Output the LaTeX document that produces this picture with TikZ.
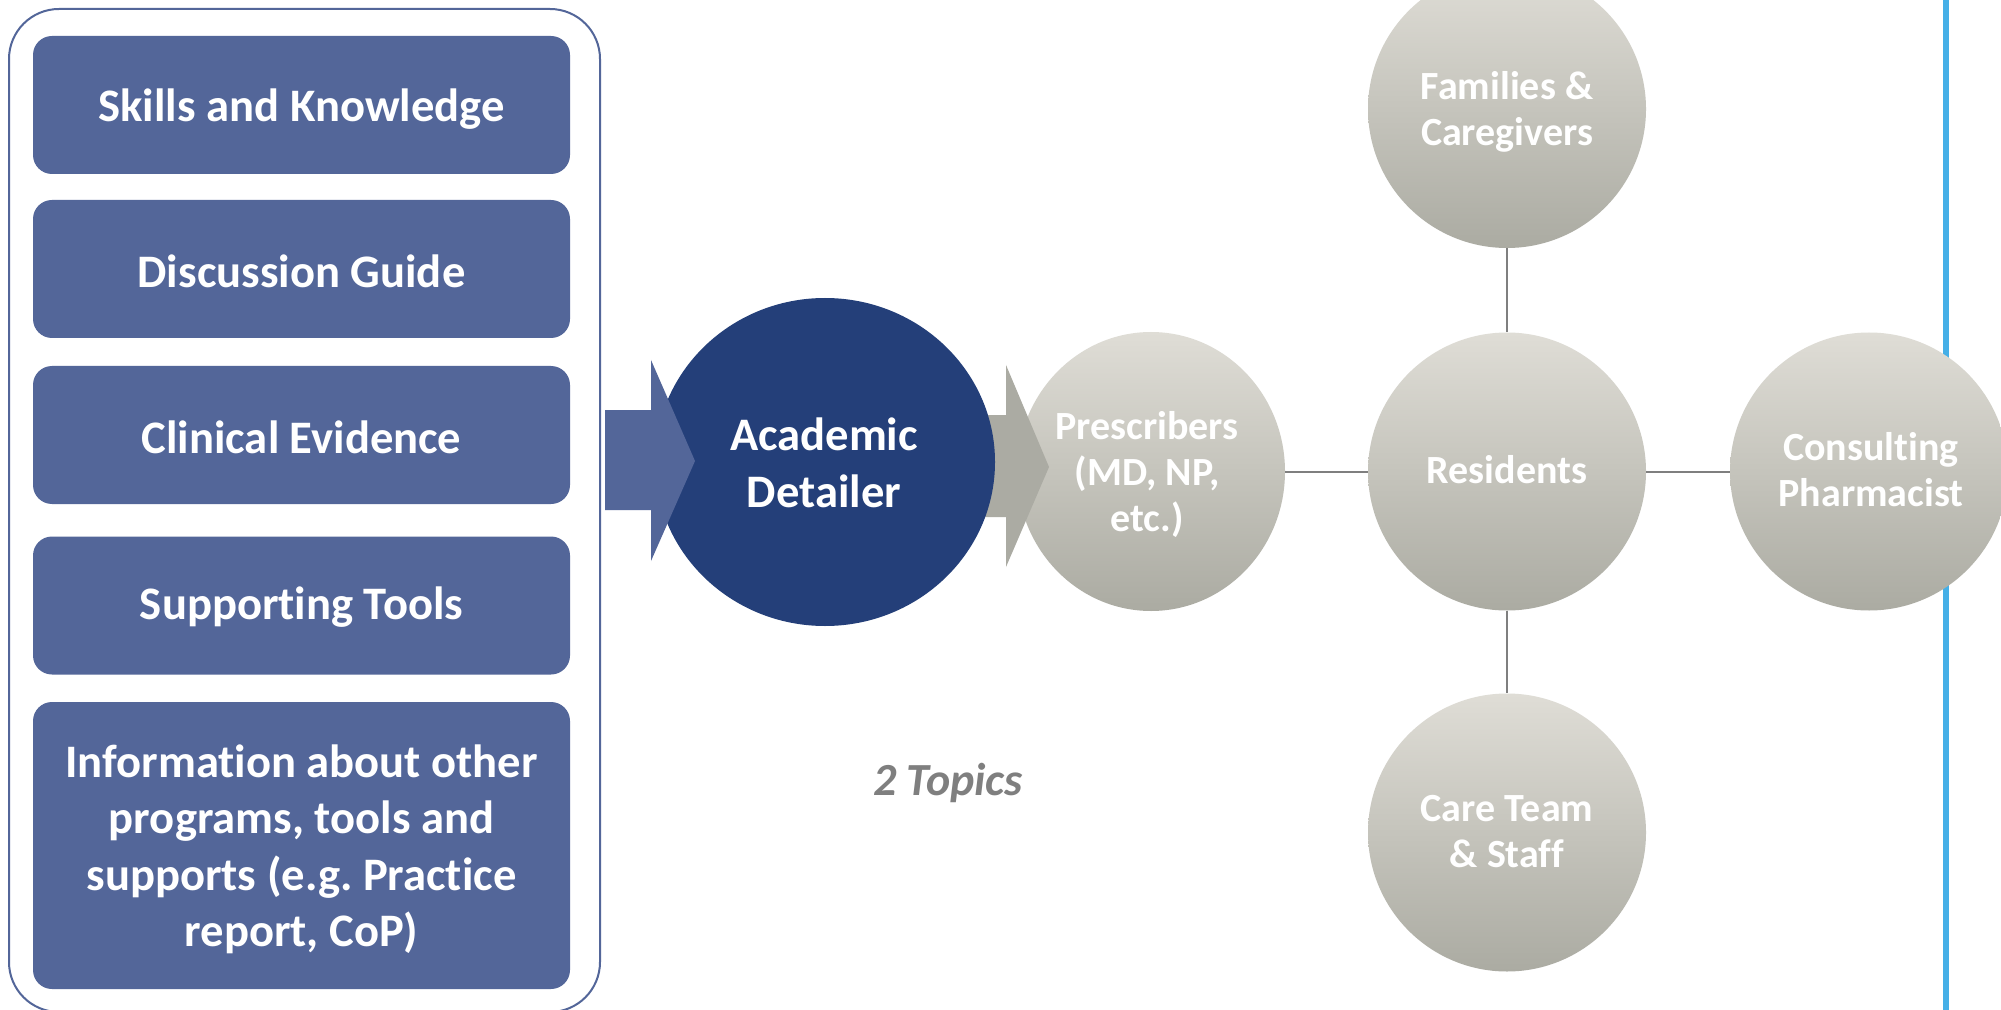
\documentclass[tikz,border=0pt]{standalone}
\usepackage{fontspec}
\setmainfont{Carlito}[Ligatures=NoCommon]
\frenchspacing
\usetikzlibrary{shapes.geometric}
\definecolor{boxblue}{HTML}{536699}
\definecolor{darkblue}{HTML}{243F79}
\definecolor{gtop}{HTML}{DFDDD6}
\definecolor{gbot}{HTML}{ABABA2}
\definecolor{arrgray}{HTML}{ABABA3}
\definecolor{linegray}{HTML}{7F7F7F}
\definecolor{skyline}{HTML}{45AFE7}
\definecolor{topicgray}{HTML}{7F7F7F}
\begin{document}
\begin{tikzpicture}[x=0.5pt,y=-0.5pt,
  itembox/.style={rectangle, rounded corners=9.5pt, fill=boxblue, minimum width=268.5pt,
    minimum height=69pt, inner sep=0pt},
  graycirc/.style={ellipse, minimum width=139pt, minimum height=139pt, inner sep=0pt,
    top color=gtop, bottom color=gbot, draw=none},
  bigtext/.style={text=white, font=\bfseries\fontsize{23.3}{28.2}\selectfont, align=center, inner sep=0pt},
  circtext/.style={text=white, font=\bfseries\fontsize{20}{23}\selectfont, align=center, inner sep=0pt},
  link/.style={draw=linegray, line width=1pt}]
\useasboundingbox (0,0) rectangle (2001,1010);
\fill[white] (0,0) rectangle (2001,1010);
% right blue rule
\coordinate (ruletop) at (1946,-5);
\coordinate (rulebot) at (1946,1015);
\draw[skyline, line width=3pt] (ruletop) -- (rulebot);
% left frame
\draw[boxblue, line width=1pt, rounded corners=25pt] (9,9) rectangle (600,1012);
% item boxes
\node[itembox] (b1) at (301.5,105) {};
\node[itembox] (b2) at (301.5,269) {};
\node[itembox] (b3) at (301.5,435) {};
\node[itembox] (b4) at (301.5,605.5) {};
\node[itembox, minimum height=143.5pt] (b5) at (301.5,845.5) {};
\node[bigtext] (b1t) at ([yshift=-2pt]b1.center) {Skills and Knowledge};
\node[bigtext] (b2t) at ([yshift=-1pt]b2.center) {Discussion Guide};
\node[bigtext] (b3t) at ([yshift=-1pt]b3.center) {Clinical Evidence};
\node[bigtext] (b4t) at ([yshift=-1pt]b4.center) {Supporting Tools};
\node[bigtext] (b5t) at ([yshift=-2pt]b5.center)
  {Information about other\\programs, tools and\\supports (e.g. Practice\\report, CoP)};
% gray circles
\node[graycirc, minimum width=134pt, minimum height=139.5pt] (pre) at (1151,471.5) {};
\node[graycirc] (fam) at (1507,109) {};
\node[graycirc] (res) at (1507,471.5) {};
\node[graycirc] (care) at (1507,832.5) {};
\node[graycirc] (cons) at (1869,471.5) {};
% arrow 2 (gray)
\fill[arrgray] (985,415) -- (1006,415) -- (1006,365) -- (1049,467) -- (1006,567) -- (1006,517) -- (985,517) -- cycle;
% academic detailer
\node[ellipse, fill=darkblue, minimum width=170pt, minimum height=164pt, inner sep=0pt] (ad) at (825,462) {};
% arrow 1 (blue)
\fill[boxblue] (605,410) -- (651,410) -- (651,360) -- (695,461) -- (651,561) -- (651,510) -- (605,510) -- cycle;
% connectors
\draw[link] (pre) -- (res);
\draw[link] (res) -- (cons);
\draw[link] (fam) -- (res);
\draw[link] (res) -- (care);
% texts
\node[bigtext] (adt) at (824,463) {Academic\\Detailer};
\node[circtext] (pret) at (1147,474) {Prescribers\\(MD, NP,\\etc.)};
\node[circtext] (famt) at (1507,112) {Families \&\\Caregivers};
\node[circtext] (rest) at (1507,470) {Residents};
\node[circtext] (caret) at (1507,831.5) {Care Team\\\& Staff};
\node[circtext] (const) at (1871,470) {Consulting\\Pharmacist};
\node[text=topicgray, font=\bfseries\itshape\fontsize{23}{28}\selectfont, inner sep=0pt] (topics) at (948,783) {2 Topics};
\end{tikzpicture}
\end{document}
